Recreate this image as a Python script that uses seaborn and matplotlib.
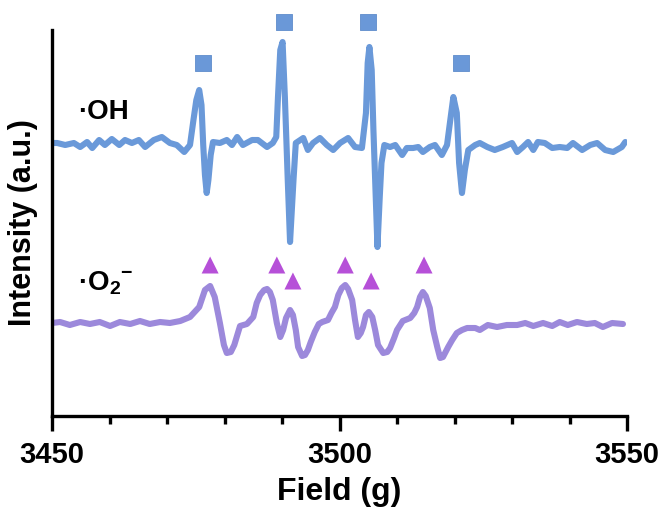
import matplotlib
matplotlib.use("Agg")
import matplotlib.pyplot as plt
from matplotlib.ticker import MultipleLocator
import numpy as np
import pandas as pd
import seaborn as sns

# ---- data (field in G, intensity in a.u. relative to each baseline) ----
oh_field = [3450.0, 3450.9, 3452.3, 3453.8, 3454.9, 3456.1, 3457.0, 3458.2, 3459.2, 3460.4,
            3461.7, 3462.7, 3463.9, 3465.1, 3466.2, 3467.7, 3469.1, 3470.5, 3471.7, 3473.0,
            3474.0, 3474.6, 3475.1, 3475.6, 3476.0, 3476.3, 3476.6, 3476.9, 3477.2, 3477.6,
            3478.0, 3479.2, 3480.4, 3481.3, 3482.2, 3483.2, 3484.8, 3485.8, 3487.4, 3488.4,
            3489.0, 3489.3, 3489.7, 3490.1, 3490.5, 3491.0, 3491.4, 3492.0, 3492.4, 3493.7,
            3494.5, 3495.4, 3496.6, 3497.8, 3498.9, 3500.1, 3501.5, 3502.7, 3503.9, 3504.6,
            3504.9, 3505.2, 3505.6, 3505.9, 3506.2, 3506.6, 3507.0, 3507.3, 3507.8, 3508.8,
            3509.7, 3510.9, 3511.7, 3512.8, 3513.7, 3514.5, 3515.7, 3516.6, 3517.8, 3518.7,
            3519.2, 3519.8, 3520.4, 3520.8, 3521.3, 3521.8, 3522.4, 3523.6, 3524.4, 3525.7,
            3527.0, 3528.4, 3530.0, 3530.9, 3531.9, 3532.8, 3533.7, 3534.5, 3535.7, 3537.0,
            3538.3, 3539.6, 3540.6, 3542.2, 3543.6, 3544.8, 3546.2, 3547.6, 3549.1, 3549.7]
oh_intensity = [2, 2, 0, 2, -2, 3, -3, 5, 0, 6,
                0, 5, 2, 5, -2, 5, 8, 2, 0, -7,
                0, 25, 45, 55, 40, 0, -30, -48, -35, -10,
                3, 2, 5, 0, 8, 0, 5, 5, -2, 2,
                8, 48, 95, 103, 48, -35, -97, -35, 2, 7,
                -5, 2, 7, 0, -5, 2, 7, -2, -3, 32,
                82, 98, 75, 15, -35, -102, -52, -18, 0, -2,
                0, -10, -3, -3, -2, -7, -2, 0, -10, 0,
                22, 48, 32, -18, -48, -25, -5, 0, 2, -2,
                -5, -2, 2, -7, -2, 3, -5, 3, 2, -3,
                -2, -3, 2, -5, 0, 2, -5, -7, -2, 3]

o2_field = [3450.0, 3451.4, 3453.1, 3454.9, 3456.6, 3458.3, 3460.1, 3461.8, 3463.6, 3465.3,
            3467.0, 3468.8, 3470.5, 3472.3, 3474.0, 3475.6, 3476.6, 3477.5, 3478.3, 3479.2,
            3479.9, 3480.4, 3481.1, 3481.7, 3482.7, 3483.9, 3485.0, 3485.6, 3486.2, 3486.9,
            3487.4, 3487.9, 3488.4, 3489.1, 3489.7, 3490.2, 3490.7, 3491.4, 3491.9, 3492.4,
            3492.8, 3493.5, 3494.0, 3494.5, 3495.0, 3495.7, 3496.4, 3497.0, 3498.0, 3498.6,
            3499.2, 3499.8, 3500.4, 3501.0, 3501.5, 3502.2, 3502.7, 3503.2, 3503.7, 3504.1,
            3504.6, 3505.1, 3505.7, 3506.2, 3506.7, 3507.6, 3508.3, 3508.8, 3509.5, 3510.0,
            3511.0, 3512.3, 3513.0, 3513.5, 3514.0, 3514.5, 3515.0, 3515.7, 3516.3, 3517.0,
            3517.5, 3518.0, 3518.9, 3519.6, 3520.4, 3521.3, 3522.2, 3523.6, 3524.4, 3525.8,
            3527.4, 3529.1, 3530.9, 3532.3, 3533.7, 3535.4, 3537.0, 3538.3, 3539.7, 3541.3,
            3543.0, 3544.4, 3545.8, 3547.4, 3549.3]
o2_intensity = [0, 1, -2, 1, -1, 1, -3, 1, -1, 2,
                -1, 1, 0, 2, 6, 16, 33, 37, 26, 0,
                -22, -30, -29, -22, -3, -1, 6, 20, 28, 33,
                34, 31, 23, 0, -14, -7, 5, 13, 8, -7,
                -24, -33, -32, -27, -19, -9, -1, 1, 3, 10,
                16, 28, 35, 38, 34, 23, 3, -14, -10, -4,
                8, 11, 6, -7, -22, -30, -29, -25, -15, -7,
                2, 5, 10, 16, 26, 31, 27, 15, -7, -24,
                -35, -34, -24, -17, -10, -7, -5, -5, -7, -2,
                -4, -2, -2, 0, -3, 0, -3, 1, -2, 1,
                -1, 0, -4, 0, -1]

oh_marker_field = [3476.2, 3490.4, 3504.9, 3521.1]
oh_marker_height = [82, 123, 123, 82]
o2_marker_field = [3477.5, 3489.1, 3491.9, 3501.0, 3505.5, 3514.7]
o2_marker_height = [58, 58, 42, 58, 42, 58]

x_major_ticks = [3450, 3500, 3550]
series_labels = ["\u00b7OH", "\u00b7O$_\\mathbf{2}$$^\\mathbf{-}$"]

# ---- styling ----
OH_OFFSET = 271
O2_OFFSET = 93
OH_COLOR = "#6A99D9"
OH_MARK = "#6A98D8"
O2_COLOR = "#9C89DB"
O2_MARK = "#B650D8"

sns.set_theme(style="ticks")
plt.rcParams['font.family'] = ['Liberation Sans', 'DejaVu Sans']
plt.rcParams['font.weight'] = 'bold'
plt.rcParams['text.color'] = 'black'
plt.rcParams['axes.labelcolor'] = 'black'
plt.rcParams['xtick.color'] = 'black'
plt.rcParams['xtick.labelcolor'] = 'black'
plt.rcParams['mathtext.fontset'] = 'custom'
plt.rcParams['mathtext.rm'] = 'Liberation Sans:bold'
plt.rcParams['mathtext.bf'] = 'Liberation Sans:bold'

fig = plt.figure(figsize=(6.63, 5.17), dpi=100)
ax = fig.add_axes([52 / 663, (517 - 416) / 517, 575 / 663, 386 / 517])

oh_df = pd.DataFrame({"field": oh_field, "intensity": np.array(oh_intensity) + OH_OFFSET})
o2_df = pd.DataFrame({"field": o2_field, "intensity": np.array(o2_intensity) + O2_OFFSET})

line_kw = dict(lw=4.4, sort=False, estimator=None, solid_joinstyle="round",
               solid_capstyle="round")
sns.lineplot(data=oh_df, x="field", y="intensity", ax=ax, color=OH_COLOR, **line_kw)
sns.lineplot(data=o2_df, x="field", y="intensity", ax=ax, color=O2_COLOR, **line_kw)

ohm = pd.DataFrame({"field": oh_marker_field, "y": np.array(oh_marker_height) + OH_OFFSET})
o2m = pd.DataFrame({"field": o2_marker_field, "y": np.array(o2_marker_height) + O2_OFFSET})
sns.scatterplot(data=ohm, x="field", y="y", ax=ax, marker="s", s=120, color=OH_MARK,
                edgecolor="#5F8CCB", linewidth=0.6, clip_on=False, zorder=5)
sns.scatterplot(data=o2m, x="field", y="y", ax=ax, marker="^", s=150, color=O2_MARK,
                edgecolor="none", clip_on=False, zorder=5)

ax.set_xlim(3450, 3550)
ax.set_ylim(0, 386)
ax.set_xticks(x_major_ticks)
ax.xaxis.set_minor_locator(MultipleLocator(10))
ax.set_yticks([])

for side in ["top", "right"]:
    ax.spines[side].set_visible(False)
for side in ["left", "bottom"]:
    ax.spines[side].set_linewidth(2.4)
    ax.spines[side].set_color("black")

ax.tick_params(axis="x", which="major", direction="out", length=11, width=2.4,
               labelsize=21, pad=7, color="black", labelcolor="black")
ax.tick_params(axis="x", which="minor", direction="out", length=6, width=2.4, color="black")
for lab in ax.get_xticklabels():
    lab.set_fontweight("bold")

ax.set_xlabel("Field (g)", fontsize=23, fontweight="bold", labelpad=6, color="black")
ax.set_ylabel("Intensity (a.u.)", fontsize=22, fontweight="bold", labelpad=10, color="black")

ax.text(3454.5, OH_OFFSET + 33, series_labels[0], fontsize=20, fontweight="bold",
        va="center", ha="left", color="black")
ax.text(3454.5, O2_OFFSET + 40, series_labels[1], fontsize=20, fontweight="bold",
        va="center", ha="left", color="black")

fig.savefig("out.png", dpi=100)
